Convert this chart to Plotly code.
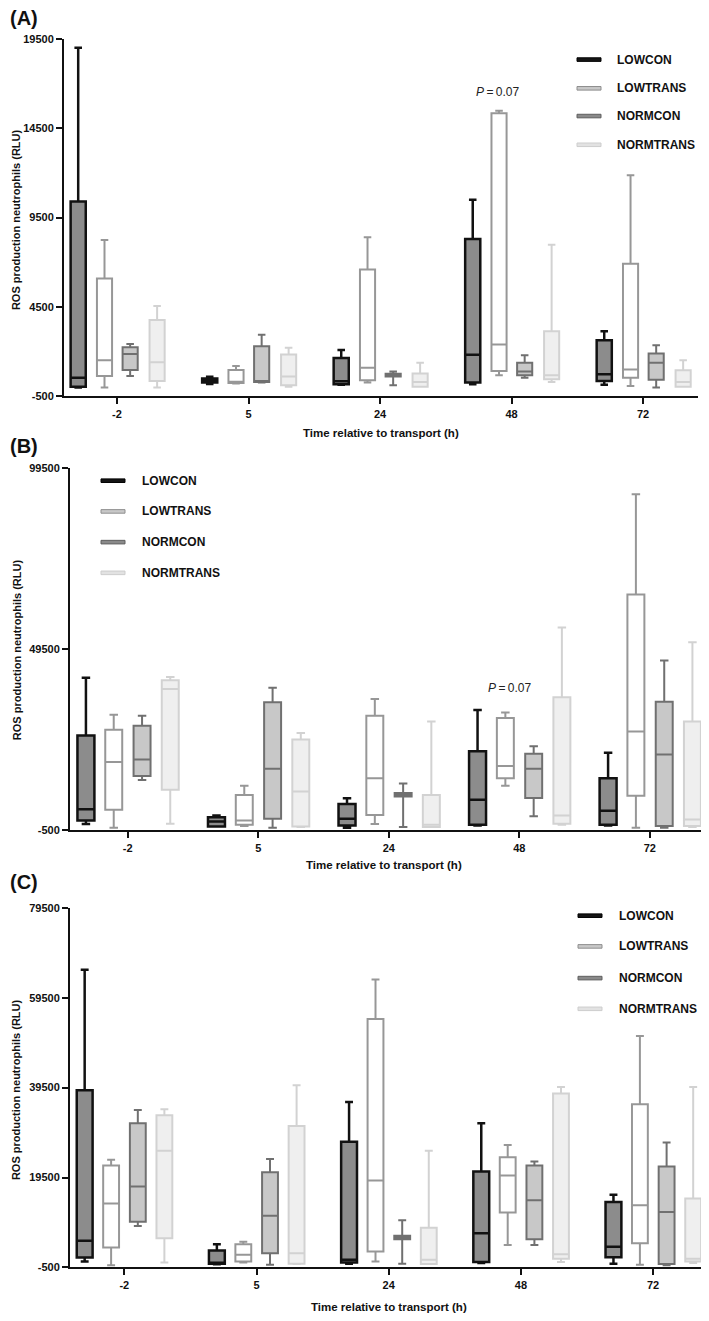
import plotly.graph_objects as go

# ---------------- data ----------------
TIMES = ["-2", "5", "24", "48", "72"]
GROUPS = ["LOWCON", "LOWTRANS", "NORMCON", "NORMTRANS"]

# each row: [lower whisker, Q1, median, Q3, upper whisker] per time point
A_LOWCON = [[0, 50, 540, 10400, 19000], [200, 280, 400, 500, 600], [150, 180, 350, 1650, 2100],
            [180, 280, 1830, 8300, 10500], [150, 370, 740, 2640, 3140]]
A_LOWTRANS = [[0, 650, 1530, 6100, 8250], [230, 260, 330, 980, 1200], [280, 400, 1100, 6600, 8400],
              [680, 920, 2400, 15330, 15470], [90, 550, 1010, 6920, 11870]]
A_NORMCON = [[650, 980, 1880, 2250, 2440], [280, 310, 370, 2310, 2950], [130, 610, 700, 770, 890],
             [550, 680, 900, 1380, 1810], [0, 430, 1380, 1900, 2360]]
A_NORMTRANS = [[0, 370, 1420, 3780, 4560], [50, 130, 610, 1840, 2220], [50, 50, 310, 790, 1380],
               [310, 460, 680, 3140, 7990], [50, 50, 310, 960, 1530]]

B_LOWCON = [[1250, 2230, 5350, 25700, 41600], [590, 600, 1960, 3160, 3600], [240, 870, 2700, 6800, 8350],
            [870, 1060, 7970, 21360, 32750], [870, 1060, 4960, 13900, 20900]]
B_LOWTRANS = [[240, 5240, 18350, 27280, 31380], [700, 1060, 2230, 9250, 11800], [1250, 3790, 13900, 31100, 35750],
              [11800, 13900, 17260, 30480, 32000], [240, 9060, 26800, 64600, 92200]]
B_NORMCON = [[13430, 14530, 19090, 28380, 31100], [240, 2700, 16550, 34850, 38840], [430, 8900, 9340, 9800, 12450],
             [3430, 8430, 16550, 20650, 22720], [240, 700, 20450, 35000, 46400]]
B_NORMTRANS = [[1330, 10700, 38500, 40940, 41850], [430, 590, 10260, 24550, 26380], [430, 430, 1060, 9250, 29550],
               [1060, 1330, 3600, 36200, 55500], [430, 700, 2500, 29550, 51400]]

C_LOWCON = [[820, 1700, 5460, 38900, 65700], [200, 320, 500, 3250, 4660], [320, 600, 1200, 27450, 36270],
            [500, 690, 7090, 20830, 31580], [320, 1790, 4130, 14060, 15690]]
C_LOWTRANS = [[0, 3910, 13710, 22160, 23480], [600, 820, 2300, 4660, 5240], [820, 3030, 18850, 54740, 63560],
              [4510, 11720, 19950, 23990, 26720], [100, 4880, 13330, 35770, 50990]]
C_NORMCON = [[8700, 9650, 17520, 31580, 34510], [100, 2680, 10970, 20680, 23630], [320, 5770, 6120, 6560, 10020],
             [4510, 5770, 14440, 22160, 23040], [0, 250, 11850, 21940, 27300]]
C_NORMTRANS = [[600, 5990, 25470, 33340, 34660], [250, 320, 2680, 30980, 40020], [250, 250, 1200, 8320, 25470],
               [690, 1420, 2460, 38190, 39650], [500, 820, 1420, 14810, 39650]]

A_TICKS = [-500, 4500, 9500, 14500, 19500]
B_TICKS = [-500, 49500, 99500]
C_TICKS = [-500, 19500, 39500, 59500, 79500]

P_LABEL = "<i>P</i>\u2009=\u20090.07"
A_P_Y = 16550
B_P_Y = 38800

# ---------------- styling ----------------
PAGE_MARGIN = 8  # default body margin of the html page
W, H = 709 - PAGE_MARGIN, 1321 - PAGE_MARGIN
FONT = "Liberation Sans, Arial, sans-serif"
BOX_FILL = {"LOWCON": "#8c8c8c", "LOWTRANS": "#ffffff", "NORMCON": "#c8c8c8", "NORMTRANS": "#efefef"}
BOX_LINE = {"LOWCON": "#111111", "LOWTRANS": "#979797", "NORMCON": "#707070", "NORMTRANS": "#d2d2d2"}
BOX_LW = {"LOWCON": 2.5, "LOWTRANS": 2, "NORMCON": 2, "NORMTRANS": 2}
LEG_FILL = {"LOWCON": "#151515", "LOWTRANS": "#c8c8c8", "NORMCON": "#8a8a8a", "NORMTRANS": "#e2e2e2"}
LEG_LINE = {"LOWCON": "#000000", "LOWTRANS": "#8e8e8e", "NORMCON": "#5e5e5e", "NORMTRANS": "#cdcdcd"}


def px(x):
    return max(x - PAGE_MARGIN, 0) / W


def py(y):
    return 1 - max(y - PAGE_MARGIN, 0) / H


panels = [
    dict(name="A", data=[A_LOWCON, A_LOWTRANS, A_NORMCON, A_NORMTRANS], ticks=A_TICKS,
         xl=64, xr=698, yt=33, yb=394, xrange=[-0.403, 4.418], offs=[-0.295, -0.095, 0.1, 0.305], bw=0.115,
         label_y=12, ytitle=(16, 216), xtitle=(381, 431),
         leg=dict(sx=577, tx=615, rows=[54, 83, 111, 140]), p=(2.9, A_P_Y)),
    dict(name="B", data=[B_LOWCON, B_LOWTRANS, B_NORMCON, B_NORMTRANS], ticks=B_TICKS,
         xl=70, xr=706, yt=466, yb=832, xrange=[-0.442, 4.43], offs=[-0.32, -0.107, 0.11, 0.326], bw=0.13,
         label_y=444, ytitle=(17, 650), xtitle=(384, 867),
         leg=dict(sx=101, tx=140, rows=[479, 510, 541, 572]), p=(2.93, B_P_Y)),
    dict(name="C", data=[C_LOWCON, C_LOWTRANS, C_NORMCON, C_NORMTRANS], ticks=C_TICKS,
         xl=70, xr=706, yt=910, yb=1273, xrange=[-0.411, 4.40], offs=[-0.30, -0.10, 0.102, 0.303], bw=0.12,
         label_y=884, ytitle=(16, 1094), xtitle=(389, 1313),
         leg=dict(sx=578, tx=617, rows=[918, 949, 981, 1012]), p=None),
]

fig = go.Figure()
layout = dict(width=W, height=H, margin=dict(l=0, r=0, t=0, b=0), showlegend=False,
              paper_bgcolor="white", plot_bgcolor="white", font=dict(family=FONT, color="#111"))
annotations = []
shapes = []

for k, pnl in enumerate(panels):
    sfx = "" if k == 0 else str(k + 1)
    xa, ya = "x" + sfx, "y" + sfx
    for g, grp in enumerate(GROUPS):
        stats = pnl["data"][g]
        fig.add_trace(go.Box(
            x=[i + pnl["offs"][g] for i in range(len(TIMES))],
            lowerfence=[s[0] for s in stats], q1=[s[1] for s in stats], median=[s[2] for s in stats],
            q3=[s[3] for s in stats], upperfence=[s[4] for s in stats],
            width=pnl["bw"], whiskerwidth=0.5, boxpoints=False,
            fillcolor=BOX_FILL[grp], line=dict(color=BOX_LINE[grp], width=BOX_LW[grp]),
            name=grp, xaxis=xa, yaxis=ya, hoverinfo="skip", showlegend=False))

    axis_common = dict(showline=True, linecolor="#111", linewidth=2, ticks="outside", ticklen=6,
                       tickwidth=2, tickcolor="#111", showgrid=False, zeroline=False,
                       tickfont=dict(family=FONT, size=11, color="#111", weight="bold"))
    layout["xaxis" + sfx] = dict(axis_common, domain=[px(pnl["xl"]), min(px(pnl["xr"]), 1)], range=pnl["xrange"],
                                 tickvals=list(range(len(TIMES))), ticktext=TIMES, anchor=ya)
    layout["yaxis" + sfx] = dict(axis_common, domain=[py(pnl["yb"]), py(pnl["yt"])],
                                 range=[pnl["ticks"][0], pnl["ticks"][-1]], tickvals=pnl["ticks"],
                                 ticktext=[str(t) for t in pnl["ticks"]], anchor=xa)

    annotations.append(dict(text="(" + pnl["name"] + ")", xref="paper", yref="paper", x=0, y=py(pnl["label_y"]),
                            xanchor="left", yanchor="middle", showarrow=False,
                            font=dict(size=20, family=FONT, weight="bold", color="#111")))
    annotations.append(dict(text="ROS production neutrophils (RLU)", xref="paper", yref="paper",
                            x=px(pnl["ytitle"][0]), y=py(pnl["ytitle"][1]), textangle=-90,
                            xanchor="center", yanchor="middle", showarrow=False,
                            font=dict(size=11, family=FONT, weight="bold", color="#111")))
    annotations.append(dict(text="Time relative to transport (h)", xref="paper", yref="paper",
                            x=px(pnl["xtitle"][0]), y=py(pnl["xtitle"][1]),
                            xanchor="center", yanchor="middle", showarrow=False,
                            font=dict(size=11.5, family=FONT, weight="bold", color="#111")))
    if pnl["p"] is not None:
        annotations.append(dict(text=P_LABEL, xref=xa, yref=ya, x=pnl["p"][0], y=pnl["p"][1],
                                xanchor="center", yanchor="middle", showarrow=False,
                                font=dict(size=12, family=FONT, color="#222")))
    leg = pnl["leg"]
    for g, grp in enumerate(GROUPS):
        ry = leg["rows"][g]
        shapes.append(dict(type="rect", xref="paper", yref="paper", x0=px(leg["sx"]), x1=px(leg["sx"] + 24),
                           y0=py(ry + 1.8), y1=py(ry - 1.8), fillcolor=LEG_FILL[grp],
                           line=dict(color=LEG_LINE[grp], width=1)))
        annotations.append(dict(text=grp, xref="paper", yref="paper", x=px(leg["tx"]), y=py(ry),
                                xanchor="left", yanchor="middle", showarrow=False,
                                font=dict(size=12, family=FONT, weight="bold", color="#111")))

layout["annotations"] = annotations
layout["shapes"] = shapes
fig.update_layout(**layout)
fig.write_html("out.html")
